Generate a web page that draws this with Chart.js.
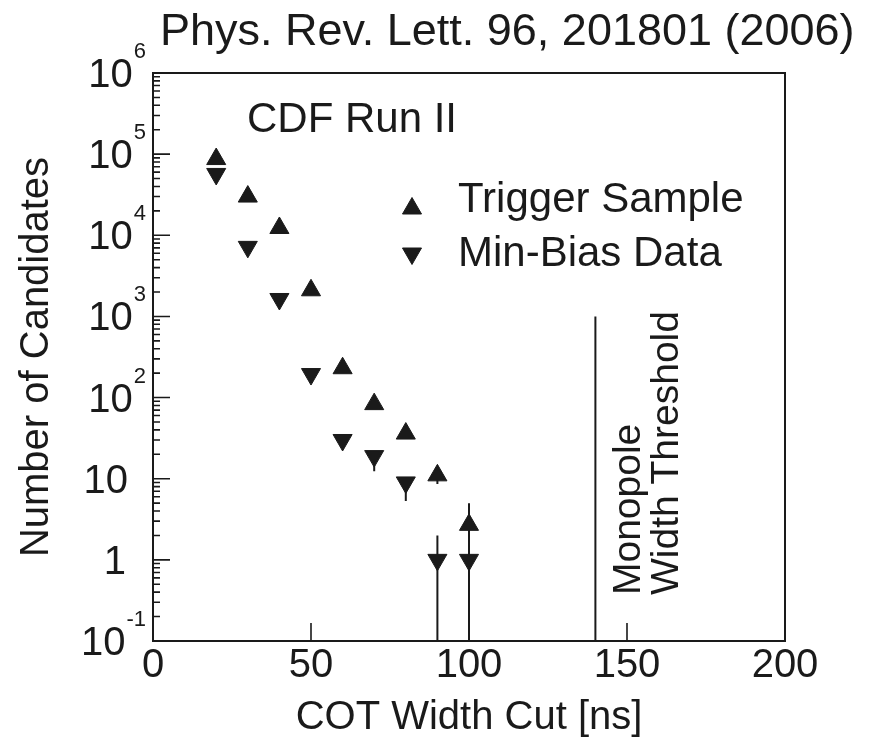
<!DOCTYPE html>
<html>
<head>
<meta charset="utf-8">
<script src="https://cdn.jsdelivr.net/npm/chart.js@4/dist/chart.umd.min.js"></script>
<style>
  html, body { margin: 0; padding: 0; background: #fff; }
  #c { display: block; }
</style>
</head>
<body>
<canvas id="c" width="869" height="738"></canvas>
<script>
// valores (COT width cut en ns)
var cutNs = [20, 30, 40, 50, 60, 70, 80, 90, 100];
var triggerSample = [87000, 30000, 12300, 2100, 230, 83, 36, 11, 2.7];
var triggerLo = [null, null, null, null, null, null, null, 8.6, 1.3];
var triggerHi = [null, null, null, null, null, null, null, 12, 5];
var minBias = [57000, 7200, 1640, 195, 30, 19, 9, 1, 1];
var minBiasLo = [null, null, null, null, null, 12.4, 5.3, 0.1, 0.1];
var minBiasHi = [null, null, null, null, null, 21, 10, 2, 2];

var xTickValues = [0, 50, 100, 150, 200];
var xInnerTicks = [50, 100, 150];
var yDecades = [-1, 0, 1, 2, 3, 4, 5, 6];
var thresholdNs = 140;
var thresholdTop = 1000;

var TITLE = 'Phys. Rev. Lett. 96, 201801 (2006)';
var FONT = '"Liberation Sans", Arial, Helvetica, sans-serif';
var INK = '#1a1a1a';

function points(xs, ys) {
    return xs.map(function (x, i) { return {x: x, y: ys[i]}; });
}

function tri(ctx, x, y, rot) {
    ctx.fillStyle = INK;
    ctx.strokeStyle = INK;
    ctx.lineWidth = 1;
    Chart.helpers.drawPoint(ctx, {pointStyle: 'triangle', rotation: rot, radius: 11, borderWidth: 1}, x, y);
}

function errBars(ctx, xs, lo, hi, sx, sy) {
    ctx.beginPath();
    for (var i = 0; i < xs.length; i++) {
        if (lo[i] === null) continue;
        var px = sx.getPixelForValue(xs[i]);
        ctx.moveTo(px, sy.getPixelForValue(Math.max(lo[i], sy.min)));
        ctx.lineTo(px, sy.getPixelForValue(hi[i]));
    }
    ctx.stroke();
}

/* MARCO, TICKS INTERIORES, LINEA DE UMBRAL Y BARRAS DE ERROR */
var paperPlugin = {
    id: 'paper',
    beforeDatasetsDraw: function (chart) {
        var ctx = chart.ctx, a = chart.chartArea, x = chart.scales.x, y = chart.scales.y;
        ctx.save();
        ctx.strokeStyle = INK;
        ctx.lineWidth = 2;
        ctx.strokeRect(a.left, a.top, a.right - a.left, a.bottom - a.top);

        ctx.lineWidth = 1.6;
        ctx.beginPath();
        yDecades.forEach(function (e) {
            var py = y.getPixelForValue(Math.pow(10, e));
            ctx.moveTo(a.left, py);
            ctx.lineTo(a.left + 17, py);
            if (e < 6) {
                for (var k = 2; k <= 9; k++) {
                    var pm = y.getPixelForValue(k * Math.pow(10, e));
                    ctx.moveTo(a.left, pm);
                    ctx.lineTo(a.left + 7, pm);
                }
            }
        });
        xInnerTicks.forEach(function (v) {
            var px = x.getPixelForValue(v);
            ctx.moveTo(px, a.bottom);
            ctx.lineTo(px, a.bottom - 18);
        });
        ctx.stroke();

        // umbral del monopolo
        ctx.lineWidth = 2;
        ctx.beginPath();
        ctx.moveTo(x.getPixelForValue(thresholdNs), y.getPixelForValue(thresholdTop));
        ctx.lineTo(x.getPixelForValue(thresholdNs), a.bottom);
        ctx.stroke();

        errBars(ctx, cutNs, triggerLo, triggerHi, x, y);
        errBars(ctx, cutNs, minBiasLo, minBiasHi, x, y);
        ctx.restore();
    },
    afterDraw: function (chart) {
        var ctx = chart.ctx, y = chart.scales.y;
        ctx.save();
        ctx.fillStyle = INK;
        ctx.textBaseline = 'alphabetic';

        ctx.font = '45px ' + FONT;
        ctx.textAlign = 'left';
        ctx.fillText(TITLE, 160, 45);

        // etiquetas del eje y con exponente
        yDecades.forEach(function (e) {
            var py = y.getPixelForValue(Math.pow(10, e));
            ctx.font = '40px ' + FONT;
            ctx.textAlign = 'right';
            if (e === 0) {
                ctx.fillText('1', 126, py + 14);
            } else if (e === 1) {
                ctx.fillText('10', 128, py + 14);
            } else {
                ctx.font = '22px ' + FONT;
                var exp = String(e);
                var we = ctx.measureText(exp).width;
                ctx.textAlign = 'left';
                ctx.fillText(exp, 146 - we, py - 15);
                ctx.font = '40px ' + FONT;
                ctx.textAlign = 'right';
                ctx.fillText('10', 145 - we, py + 14);
            }
        });

        ctx.font = '42px ' + FONT;
        ctx.textAlign = 'left';
        ctx.fillText('CDF Run II', 247, 132);

        // leyenda
        tri(ctx, 412, 208.5, 0);
        tri(ctx, 412, 253.5, 180);
        ctx.fillStyle = INK;
        ctx.font = '42px ' + FONT;
        ctx.fillText(chart.data.datasets[0].label, 458, 212);
        ctx.fillText(chart.data.datasets[1].label, 458, 266);

        ctx.font = '39px ' + FONT;
        [['Monopole', 640], ['Width Threshold', 678]].forEach(function (t) {
            ctx.save();
            ctx.translate(t[1], 595);
            ctx.rotate(-Math.PI / 2);
            ctx.fillText(t[0], 0, 0);
            ctx.restore();
        });
        ctx.restore();
    }
};

var chart = new Chart(document.getElementById('c').getContext('2d'), {
    type: 'scatter',
    data: {
        datasets: [
            {
                label: 'Trigger Sample',
                data: points(cutNs, triggerSample),
                pointStyle: 'triangle',
                pointRotation: 0,
                pointRadius: 11,
                pointBorderWidth: 1,
                pointBackgroundColor: INK,
                pointBorderColor: INK
            },
            {
                label: 'Min-Bias Data',
                data: points(cutNs, minBias),
                pointStyle: 'triangle',
                pointRotation: 180,
                pointRadius: 11,
                pointBorderWidth: 1,
                pointBackgroundColor: INK,
                pointBorderColor: INK
            }
        ]
    },
    options: {
        responsive: false,
        animation: false,
        devicePixelRatio: 1,
        layout: {padding: {left: 0, right: 84, top: 73, bottom: 0}},
        plugins: {
            legend: {display: false},
            title: {display: false},
            tooltip: {enabled: false}
        },
        scales: {
            x: {
                type: 'linear',
                min: 0,
                max: 200,
                afterFit: function (s) { s.height = 97; },
                afterBuildTicks: function (s) { s.ticks = xTickValues.map(function (v) { return {value: v}; }); },
                grid: {display: false, drawTicks: false},
                border: {display: false},
                ticks: {color: INK, padding: 1, maxRotation: 0, font: {family: FONT, size: 40}},
                title: {display: true, text: 'COT Width Cut [ns]', color: INK, padding: 0, font: {family: FONT, size: 40, lineHeight: 1}}
            },
            y: {
                type: 'logarithmic',
                min: 0.1,
                max: 1e6,
                afterFit: function (s) { s.width = 153; },
                grid: {display: false, drawTicks: false},
                border: {display: false},
                ticks: {display: false},
                title: {display: true, text: 'Number of Candidates', color: INK, padding: {top: 17, bottom: 0}, font: {family: FONT, size: 40, lineHeight: 1}}
            }
        }
    },
    plugins: [paperPlugin]
});
</script>
</body>
</html>
